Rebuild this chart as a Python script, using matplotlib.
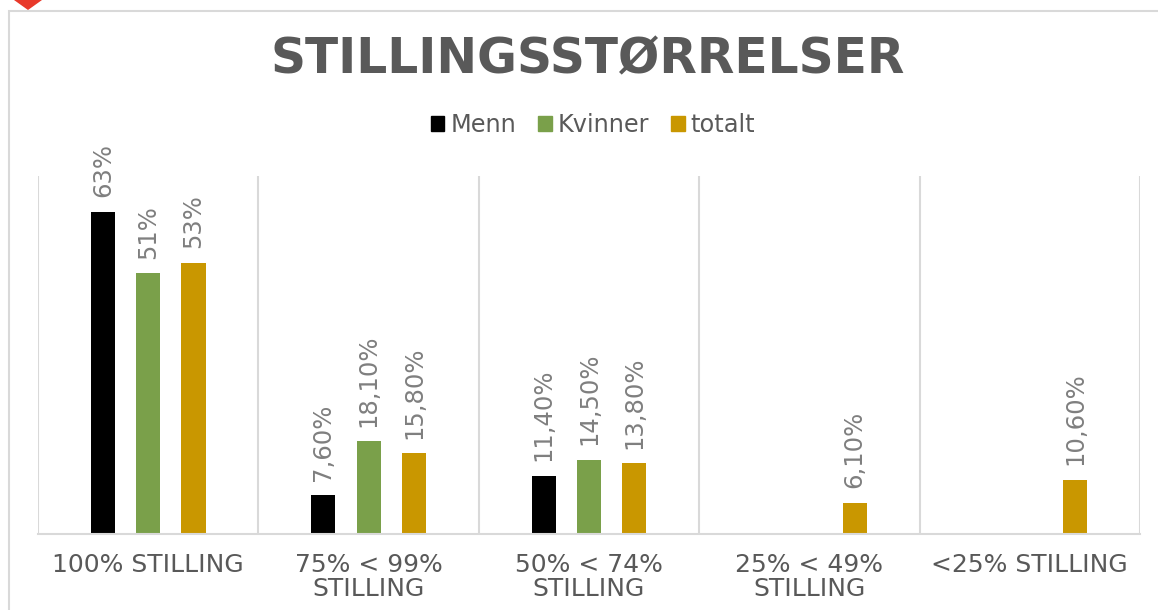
import matplotlib
matplotlib.use('Agg')
import matplotlib.pyplot as plt
import numpy as np
from matplotlib.patches import Patch, Polygon, Rectangle

OUT_PNG = 'out.png'

categories = ['100% STILLING', '75% < 99%\nSTILLING', '50% < 74%\nSTILLING',
              '25% < 49%\nSTILLING', '<25% STILLING']
menn = [63, 7.6, 11.4, None, None]
kvinner = [51, 18.1, 14.5, None, None]
totalt = [53, 15.8, 13.8, 6.1, 10.6]
menn_labels = ['63%', '7,60%', '11,40%', '', '']
kvinner_labels = ['51%', '18,10%', '14,50%', '', '']
totalt_labels = ['53%', '15,80%', '13,80%', '6,10%', '10,60%']

W, H = 1158, 610
GRID = '#d9d9d9'
LABEL = '#7f7f7f'
BAR_W = 0.109
STEP = 0.2055


def add_bars(ax, offset, values, labels, color, name):
    for i, (v, lab) in enumerate(zip(values, labels)):
        if v is None:
            continue
        ax.bar(i + offset, v, BAR_W, color=color)
        ax.annotate(lab, (i + offset, v), xytext=(0, 10.5), textcoords='offset points',
                    rotation=90, ha='center', va='bottom', fontsize=17.5,
                    color=LABEL, annotation_clip=False)
    return Patch(color=color, label=name)


fig = plt.figure(figsize=(W / 100, H / 100), dpi=100)
ax = fig.add_axes([38 / W, 1 - 534 / H, (1140 - 38) / W, (534 - 176) / H])

# chart frame and the clipped marker above it, as in the screenshot
fig.add_artist(Rectangle((9 / W, -0.01), 1.1, 1 - 11 / H + 0.01, transform=fig.transFigure,
                         fill=False, ec=GRID, lw=1.5))
fig.add_artist(Polygon([(14 / W, 1), (42 / W, 1), (28 / W, 1 - 10 / H)],
                       transform=fig.transFigure, fc='#e8392a', ec='none'))

handles = [add_bars(ax, -STEP, menn, menn_labels, '#000000', 'Menn'),
           add_bars(ax, 0, kvinner, kvinner_labels, '#7aa04a', 'Kvinner'),
           add_bars(ax, STEP, totalt, totalt_labels, '#c99700', 'totalt')]

ax.set_xlim(-0.5, 4.5)
ax.set_ylim(0, 70)
ax.set_yticks([])
ax.set_xticks(np.arange(len(categories)))
ax.set_xticklabels(categories, fontsize=18, color='#595959', linespacing=1.0)
ax.tick_params(axis='x', length=0, pad=14)
ax.set_xticks(np.arange(len(categories) + 1) - 0.5, minor=True)
ax.tick_params(axis='x', which='minor', length=0)
ax.grid(True, axis='x', which='minor', color=GRID, lw=1.5)
ax.set_axisbelow(True)
for s in ['top', 'right', 'left']:
    ax.spines[s].set_visible(False)
ax.spines['bottom'].set_color(GRID)
ax.spines['bottom'].set_linewidth(1.5)

fig.text(588 / W, 1 - 73 / H, 'STILLINGSSTØRRELSER', ha='center', va='baseline',
         fontsize=35, fontweight='bold', color='#595959')
fig.legend(handles=handles, loc='center', bbox_to_anchor=(593 / W, 1 - 125 / H), ncol=3,
           frameon=False, fontsize=17.3, labelcolor='#595959', handlelength=0.58,
           handleheight=0.58, handletextpad=0.25, columnspacing=0.9,
           borderpad=0, borderaxespad=0)

fig.savefig(OUT_PNG, dpi=100)
